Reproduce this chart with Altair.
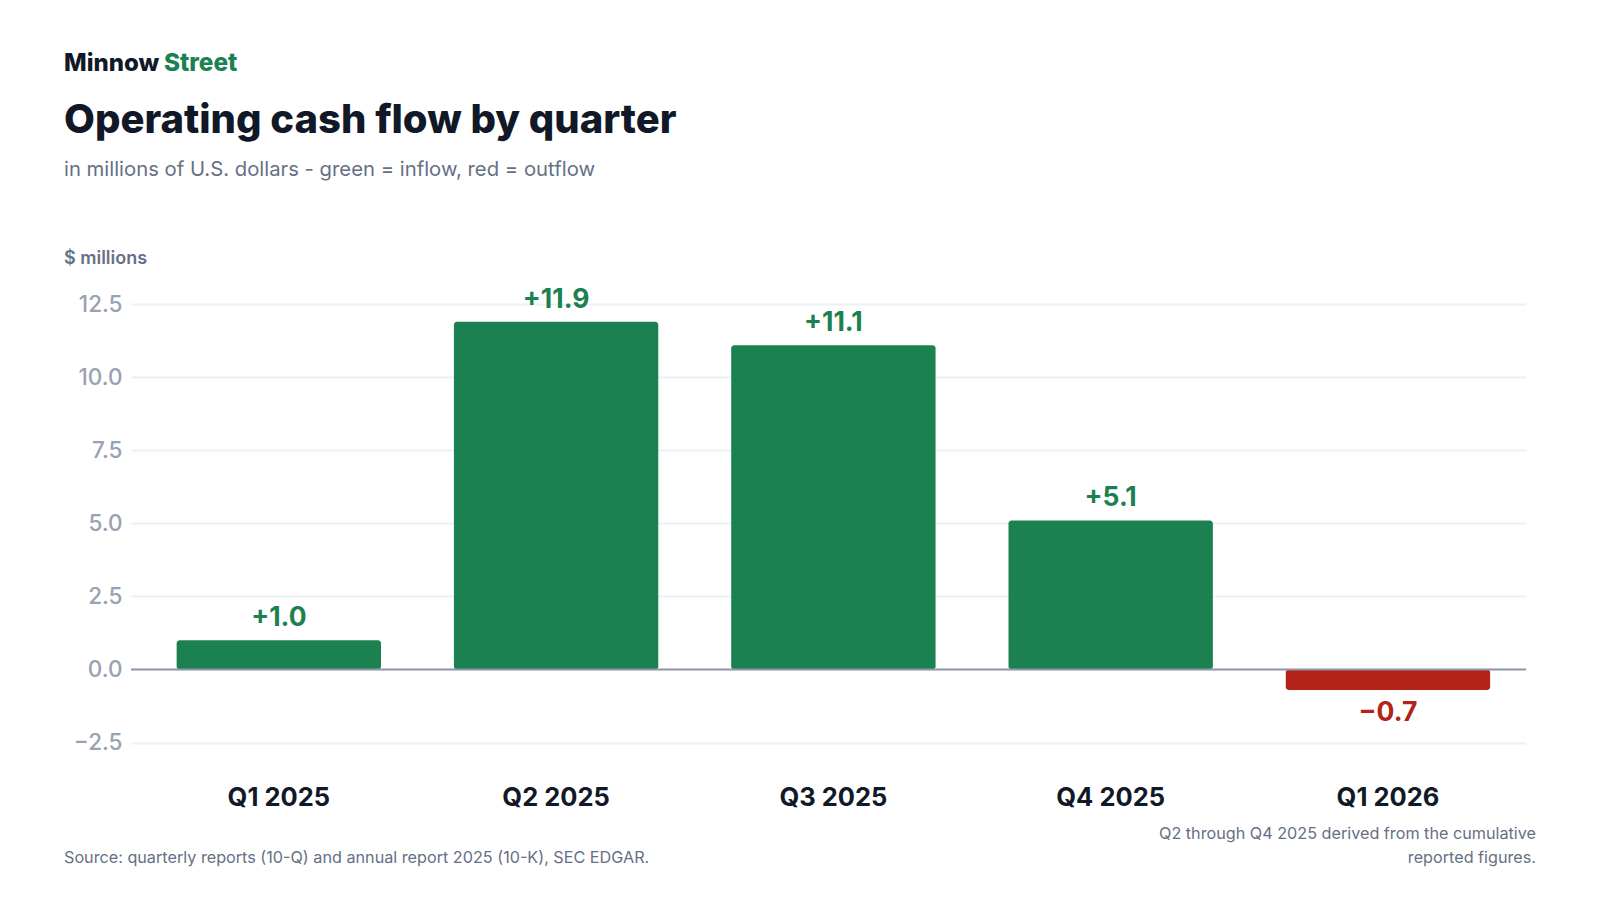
import altair as alt
import pandas as pd

quarters = ["Q1 2025", "Q2 2025", "Q3 2025", "Q4 2025", "Q1 2026"]
values = [1.0, 11.9, 11.1, 5.1, -0.7]
y_ticks = [-2.5, 0.0, 2.5, 5.0, 7.5, 10.0, 12.5]

brand_a = "Minnow"
brand_b = "Street"
title = "Operating cash flow by quarter"
subtitle = "in millions of U.S. dollars - green = inflow, red = outflow"
y_title = "$ millions"
source = "Source: quarterly reports (10-Q) and annual report 2025 (10-K), SEC EDGAR."
note_lines = ["Q2 through Q4 2025 derived from the cumulative", "reported figures."]

GREEN = "#1c8150"
RED = "#b42318"
DARK = "#111827"
MUTED = "#667085"
FONT = "Inter"

def fmt(v):
    return ("+" if v >= 0 else "\u2212") + f"{abs(v):.1f}"

df = pd.DataFrame({
    "quarter": quarters,
    "value": values,
    "label": [fmt(v) for v in values],
    "sign": ["in" if v >= 0 else "out" for v in values],
})

W, H = 1395, 488

x = alt.X("quarter:N", sort=quarters, title=None,
          scale=alt.Scale(paddingInner=0.263, paddingOuter=0.147, align=0.56),
          axis=alt.Axis(labelAngle=0, labelFont=FONT, labelFontSize=25.5, labelFontWeight=700,
                        labelColor=DARK, labelPadding=22, ticks=False, domain=False, grid=False))
y = alt.Y("value:Q", title=None,
          scale=alt.Scale(domain=[-3.2, 13.5], nice=False, zero=False),
          axis=alt.Axis(values=y_ticks, format=".1f", labelFont=FONT, labelFontSize=22.5,
                        labelFontWeight=500, labelColor="#98a2b3", labelPadding=9,
                        ticks=False, domain=False, grid=True, gridColor="#edf0f4", gridWidth=2))

color = alt.Color("sign:N", scale=alt.Scale(domain=["in", "out"], range=[GREEN, RED]), legend=None)

base = alt.Chart(df)
bars = base.mark_bar(cornerRadius=3).encode(x=x, y=y, y2=alt.datum(0), color=color)
zero = alt.Chart(pd.DataFrame({"z": [0]})).mark_rule(color="#8f98a8", strokeWidth=2).encode(y=alt.Y("z:Q"))
lab_pos = base.transform_filter("datum.value >= 0").mark_text(
    font=FONT, fontSize=26.5, fontWeight=700, baseline="alphabetic", dy=-14
).encode(x=alt.X("quarter:N", sort=quarters), y="value:Q", text="label:N", color=color)
lab_neg = base.transform_filter("datum.value < 0").mark_text(
    font=FONT, fontSize=26.5, fontWeight=700, baseline="alphabetic", dy=31.5
).encode(x=alt.X("quarter:N", sort=quarters), y="value:Q", text="label:N", color=color)

def txt(s, xv, yv, size, color, weight="normal", align="left"):
    return alt.Chart(pd.DataFrame({"t": [s]})).mark_text(
        font=FONT, fontSize=size, fontWeight=weight, color=color, align=align,
        baseline="alphabetic"
    ).encode(text="t:N", x=alt.value(xv), y=alt.value(yv))

texts = [
    txt(brand_a, -67, -204.5, 24, DARK, 800),
    txt(brand_b, 33, -204.5, 24.3, GREEN, 800),
    txt(title, -67, -142, 40, DARK, 800),
    txt(subtitle, -67, -99, 20.3, MUTED),
    txt(y_title, -67, -11, 18, MUTED, 600),
    txt(source, -67, 588.3, 16.2, MUTED),
    txt(note_lines[0], 1405, 564, 16.2, MUTED, align="right"),
    txt(note_lines[1], 1405, 588.3, 16.2, MUTED, align="right"),
]

chart = alt.layer(bars, zero, lab_pos, lab_neg, *texts).properties(
    width=W, height=H,
    autosize=alt.AutoSizeParams(type="none"),
    padding={"left": 123, "top": 267, "right": 25, "bottom": 110},
).configure(font=FONT, background="white").configure_view(stroke=None)

chart.save("out.html", embed_options={"renderer": "svg", "actions": False})
